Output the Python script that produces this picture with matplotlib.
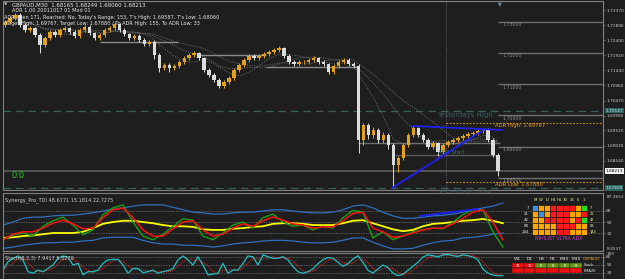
import matplotlib
matplotlib.use("Agg")
import matplotlib.pyplot as plt
import numpy as np
import pandas as pd

# ---- price data (GBPAUD M30) ----
closes = [1.7299, 1.7311, 1.7321, 1.7289, 1.7273, 1.7279, 1.7257, 1.7225, 1.7247, 1.7267,
          1.7257, 1.7273, 1.7279, 1.7267, 1.7254, 1.7273, 1.7283, 1.7263, 1.7247, 1.7257,
          1.7273, 1.7279, 1.7292, 1.7273, 1.7260, 1.7247, 1.7254, 1.7241, 1.7228, 1.7235,
          1.7193, 1.7151, 1.7161, 1.7151, 1.7158, 1.7171, 1.7183, 1.7193, 1.7199, 1.7183,
          1.7145, 1.7129, 1.7113, 1.7094, 1.7107, 1.7119, 1.7145, 1.7161, 1.7177, 1.7190,
          1.7183, 1.7190, 1.7196, 1.7203, 1.7209, 1.7215, 1.7190, 1.7171, 1.7164, 1.7171,
          1.7171, 1.7177, 1.7183, 1.7171, 1.7164, 1.7139, 1.7158, 1.7171, 1.7177, 1.7164,
          1.7158, 1.6921, 1.6969, 1.6937, 1.6953, 1.6921, 1.6937, 1.6905, 1.6841, 1.6863,
          1.6905, 1.6937, 1.6959, 1.6937, 1.6921, 1.6899, 1.6911, 1.6883, 1.6905, 1.6915,
          1.6921, 1.6927, 1.6934, 1.6940, 1.6943, 1.6950, 1.6953, 1.6921, 1.6873, 1.68213]
first_open = 1.7290
highs = [1.7306, 1.7318, 1.7327, 1.7326, 1.7295, 1.7286, 1.7284, 1.7262, 1.7253, 1.7274,
         1.7273, 1.7280, 1.7286, 1.7284, 1.7272, 1.7280, 1.7290, 1.7288, 1.7268, 1.7264,
         1.7280, 1.7286, 1.7300, 1.7297, 1.7278, 1.7265, 1.7261, 1.7259, 1.7246, 1.7242,
         1.7240, 1.7198, 1.7168, 1.7166, 1.7165, 1.7178, 1.7190, 1.7200, 1.7206, 1.7204,
         1.7188, 1.7150, 1.7134, 1.7118, 1.7114, 1.7126, 1.7152, 1.7168, 1.7184, 1.7197,
         1.7195, 1.7197, 1.7203, 1.7210, 1.7216, 1.7222, 1.7220, 1.7195, 1.7176, 1.7178,
         1.7177, 1.7184, 1.7190, 1.7188, 1.7176, 1.7169, 1.7165, 1.7178, 1.7184, 1.7182,
         1.7172, 1.7163, 1.6976, 1.6975, 1.6962, 1.6958, 1.6946, 1.6942, 1.6910, 1.6870,
         1.6912, 1.6944, 1.6966, 1.6964, 1.6942, 1.6926, 1.6918, 1.6916, 1.6912, 1.6922,
         1.6928, 1.6934, 1.6941, 1.6947, 1.6950, 1.6956, 1.6959, 1.6958, 1.6926, 1.6880]
lows = [1.7284, 1.7293, 1.7305, 1.7282, 1.7266, 1.7268, 1.7250, 1.7199, 1.7219, 1.7241,
        1.7250, 1.7251, 1.7267, 1.7261, 1.7247, 1.7248, 1.7267, 1.7257, 1.7240, 1.7241,
        1.7251, 1.7267, 1.7273, 1.7267, 1.7253, 1.7240, 1.7241, 1.7234, 1.7221, 1.7222,
        1.7180, 1.7140, 1.7145, 1.7140, 1.7145, 1.7152, 1.7165, 1.7177, 1.7187, 1.7176,
        1.7138, 1.7122, 1.7106, 1.7087, 1.7088, 1.7101, 1.7113, 1.7139, 1.7155, 1.7171,
        1.7176, 1.7177, 1.7184, 1.7190, 1.7197, 1.7203, 1.7183, 1.7164, 1.7157, 1.7158,
        1.7165, 1.7165, 1.7171, 1.7164, 1.7157, 1.7132, 1.7133, 1.7152, 1.7165, 1.7157,
        1.7152, 1.6879, 1.6905, 1.6925, 1.6928, 1.6910, 1.6912, 1.6893, 1.6767, 1.6820,
        1.6856, 1.6898, 1.6930, 1.6930, 1.6914, 1.6892, 1.6893, 1.6870, 1.6877, 1.6899,
        1.6909, 1.6915, 1.6921, 1.6928, 1.6934, 1.6937, 1.6944, 1.6914, 1.6866, 1.6806]

price_ticks = [1.73370, 1.72890, 1.72400, 1.71920, 1.71440, 1.70960,
               1.70470, 1.69990, 1.69520, 1.69030, 1.68540]
round_levels = [1.73, 1.72, 1.71, 1.70, 1.69, 1.68]
adr_high, adr_low = 1.69767, 1.67880
yday_high, yday_low = 1.70147, 1.67668
last_price = 1.68213

# ---- Synergy TDI ----
tdi_rsi = [21, 29, 32, 27, 43, 52, 58, 45, 29, 37, 62, 73, 78, 50, 27, 21, 30, 43, 55, 53,
           27, 21, 32, 45, 50, 40, 57, 63, 50, 43, 45, 37, 43, 40, 57, 69, 66, 24, 34, 21,
           27, 34, 37, 40, 39, 50, 62, 70, 70, 34, 9]
tdi_signal = [21, 30, 34, 34, 40, 48, 53, 47, 39, 40, 57, 70, 73, 57, 37, 27, 27, 39, 50, 52,
              37, 27, 30, 40, 47, 43, 52, 58, 53, 47, 45, 40, 42, 42, 52, 64, 66, 40, 34, 25,
              27, 32, 37, 40, 40, 47, 56, 66, 70, 50, 21]
tdi_base = [24, 25, 27, 28, 30, 32, 32, 32, 34, 40, 47, 50, 52, 52, 50, 48, 45, 43, 43, 42,
            38, 37, 37, 39, 40, 42, 43, 47, 48, 48, 47, 45, 45, 45, 48, 52, 53, 48, 43, 38,
            35, 37, 43, 47, 48, 50, 52, 53, 55, 52, 48]
tdi_upper = [45, 50, 56, 58, 58, 60, 61, 61, 63, 65, 68, 71, 73, 76, 78, 78, 78, 74, 70, 66,
             65, 63, 63, 65, 66, 66, 68, 70, 70, 68, 66, 65, 65, 66, 70, 76, 78, 73, 66, 60,
             56, 56, 58, 60, 61, 63, 66, 70, 73, 76, 81]
tdi_lower = [7, 9, 12, 14, 16, 16, 17, 17, 19, 20, 24, 25, 25, 25, 20, 16, 14, 14, 12, 12,
             11, 9, 11, 14, 16, 17, 19, 20, 20, 19, 17, 16, 16, 17, 20, 24, 24, 17, 11, 6,
             6, 7, 12, 16, 19, 20, 24, 25, 27, 30, 32]

# ---- Stochastic ----
stoch = [31, 62, 75, 84, 69, 25, 19, 31, 25, 37, 50, 75, 84, 79, 50, 56, 13, 25, 25, 31,
         56, 69, 71, 71, 50, 19, 37, 37, 21, 25, 31, 19, 25, 29, 37, 69, 84, 69, 50, 81,
         50, 13, 16, 19, 56, 19, 31, 31, 56, 84, 81, 50, 88, 81, 75, 75, 81, 69, 44, 25,
         19, 25, 35, 55, 70, 78, 75, 60, 45, 55, 72, 85, 60, 30, 20, 35, 50, 40, 20, 10,
         15, 30, 45, 60, 80, 88, 85, 80, 88, 90, 85, 82, 88, 85, 80, 70, 35, 20, 12, 10, 10]

# ---- ADX heat map ----
adx_cols = ["M", "W", "D", "H4", "H1", "30", "15", "5", "1"]
adx_rows = ["7", "21", "42", "88", "144"]
adx_states = ["BOORRRROG",
              "OBORRROOR",
              "OORRRRORG",
              "OOOORRROO",
              "OOOORROOO"]
stoch_tf = ["W1", "D1", "H4", "H1", "M30", "M15"]
stoch_tf_vals = ["11", "16", "8", "8", "8", "8"]
stoch_tf_state = ["R", "R", "G", "G", "G", "G"]

W, H = 625, 279
BG = "#1e1e1e"
GRID = "#808080"
TXT = "#d0d0d0"
FS_AX = 3.1

fig = plt.figure(figsize=(W / 100, H / 100), dpi=100, facecolor=BG)


def rect(x0, y0, x1, y1):
    return [x0 / W, 1 - y1 / H, (x1 - x0) / W, (y1 - y0) / H]


def ftxt(x, y, s, **kw):
    fig.text(x / W, 1 - y / H, s, **kw)


def px2bar(px):
    return (px - 5) / 4.98


def style(ax):
    ax.set_facecolor(BG)
    for sp in ax.spines.values():
        sp.set_color(GRID)
        sp.set_linewidth(0.8)
    ax.set_xlim(-0.4, 120.1)
    ax.set_xticks([])
    ax.yaxis.tick_right()
    ax.tick_params(axis="y", colors=GRID, labelcolor=TXT, labelsize=FS_AX, length=1.5, width=0.5, pad=0.8)


# ================= main price panel =================
ax = fig.add_axes(rect(3, 1, 603, 190))
style(ax)
ax.set_ylim(1.6761, 1.7366)
ax.set_yticks(price_ticks)
ax.set_yticklabels(["%.5f" % t for t in price_ticks])

opens = [first_open] + closes[:-1]
x = np.arange(len(closes))
for i in x:
    o, c = opens[i], closes[i]
    col = "#e3a21a" if c >= o else "#dcdcdc"
    ax.vlines(i, lows[i], highs[i], color=col, lw=0.7, zorder=3)
    ax.bar(i, max(abs(c - o), 0.00005), bottom=min(o, c), width=0.7, color=col, zorder=3)

cs = pd.Series(closes)
for w in (8, 14, 21):
    ax.plot(x, cs.rolling(w, min_periods=1).mean(), color="#6a6a6a", lw=0.6, ls=(0, (1.5, 1.5)), zorder=2)

# pivot-like range lines
ax.hlines(1.7235, px2bar(100), px2bar(178), color="#8a8a8a", lw=1.0, zorder=2)
ax.hlines(1.7193, px2bar(200), px2bar(266), color="#8a8a8a", lw=1.0, zorder=2)
ax.hlines(1.7155, px2bar(266), px2bar(358), color="#8a8a8a", lw=1.0, zorder=2)
ax.hlines(1.6911, px2bar(358), px2bar(500), color="#6e6e6e", lw=1.0, zorder=2)
ax.hlines(1.6873, px2bar(395), px2bar(497), color="#5a5a5a", lw=1.0, zorder=2)
ax.axhline(last_price, color="#5c5c5c", lw=1.2, zorder=1)

# round number levels
for lv in round_levels:
    ax.hlines(lv, px2bar(498), 120.1, color="#6e6e6e", lw=1.0, zorder=1)
    ax.text(px2bar(503), lv - 0.0002, "%.5f" % lv, color="#8c8c8c", fontsize=3.4, va="top")

# yesterday's high / low
for lv in (yday_high, yday_low):
    ax.axhline(lv, color="#3b5f5f", lw=0.9, ls=(0, (6, 4)), zorder=1)
ax.text(px2bar(437), yday_high - 0.0004, "Yesterdays High", color="#355e5e", fontsize=5, va="top")
ax.text(px2bar(437), yday_low - 0.0004, "Yesterdays Low", color="#355e5e", fontsize=5, va="top")

# ADR lines
ax.hlines([adr_high, adr_low], px2bar(446), 120.1, color="#d08a10", lw=0.8, ls=(0, (1.5, 1.5)), zorder=2)
ax.text(px2bar(495), adr_high - 0.0001, "ADR High: %.5f" % adr_high, color="#e09a20", fontsize=3.8, va="top")
ax.text(px2bar(495), adr_low - 0.0001, "ADR Low: %.5f" % adr_low, color="#e09a20", fontsize=3.8, va="top")
ax.axvline(px2bar(446), color="#7a7a7a", lw=0.6, ls=(0, (1, 1.5)), zorder=1)
ax.text(px2bar(438), 1.6880, "ADR Start", color="#3f7070", fontsize=4, va="center")

# trend lines
ax.plot([px2bar(392), px2bar(485)], [1.6767, 1.6956], color="#1f1fff", lw=1.2, zorder=4)
ax.plot([px2bar(412), px2bar(502)], [1.6966, 1.6953], color="#1f1fff", lw=1.2, zorder=4)

# right side price boxes
yt = ax.get_yaxis_transform()
ax.text(1.004, last_price, "%.5f" % last_price, transform=yt, fontsize=FS_AX, color="#000000",
        va="center", ha="left", bbox=dict(facecolor="#f0f0f0", edgecolor="none", pad=0.5), clip_on=False)
for lv in (yday_high, yday_low):
    ax.text(1.004, lv, "%.5f" % lv, transform=yt, fontsize=FS_AX, color="#bfe0e0",
            va="center", ha="left", bbox=dict(facecolor="#2d6464", edgecolor="none", pad=0.5), clip_on=False)

# header text
ftxt(4, 5, "\u25bc", color="#c0c0c0", fontsize=3.2, va="center")
ftxt(12, 5, "GBPAUD,M30  1.68165 1.68249 1.68060 1.68213", color="#e8e8e8", fontsize=3.9, va="center")
ftxt(12, 11, "ADR 1.00 20011017 01 Mod 01", color="#e8e8e8", fontsize=3.6, va="center")
ftxt(4, 17, "ADR Aven 171, Reached: No, Today's Range: 153, T's High: 1.69587, T's Low: 1.68060",
     color="#e8e8e8", fontsize=3.6, va="center")
ftxt(4, 23, "Target High: 1.69767, Target Low: 1.67880 / To ADR High: 155, To ADR Low: 33",
     color="#e8e8e8", fontsize=3.6, va="center")
ftxt(12, 176, "0.0", color="#22cc22", fontsize=6, va="center")
ftxt(500, 4, "\u25bc", color="#8090b0", fontsize=3.5, va="center", ha="center")

# ================= Synergy TDI panel =================
ax2 = fig.add_axes(rect(3, 193, 603, 251))
style(ax2)
ax2.set_ylim(2.6, 97.4)
ax2.set_yticks([68, 50, 32])
ax2.set_yticklabels(["68", "50", "32"])
for lv in (68, 50, 32):
    ax2.axhline(lv, color="#6a6a6a", lw=0.6, ls=(0, (1.5, 1.5)))
tx = px2bar(3 + 10 * np.arange(len(tdi_rsi)))
ax2.plot(tx, tdi_upper, color="#2f6fbf", lw=0.9)
ax2.plot(tx, tdi_lower, color="#2f6fbf", lw=0.9)
ax2.plot(tx, tdi_base, color="#ffff00", lw=1.3)
ax2.plot(tx, tdi_rsi, color="#15a015", lw=1.0)
ax2.plot(tx, tdi_signal, color="#ff1010", lw=1.1)
ax2.plot([px2bar(420), px2bar(478)], [59.8, 71.3], color="#1f1fff", lw=1.3)
ax2.text(0.004, 0.93, "Synergy_Pro_TDI 48.6771 15.1814 22.7275", transform=ax2.transAxes,
         color=TXT, fontsize=3.6, va="top")
ax2.text(1.006, 0.93, "87.3653", transform=ax2.transAxes, color=TXT, fontsize=FS_AX, va="center", clip_on=False)
ax2.text(1.006, 0.04, "8.3537", transform=ax2.transAxes, color=TXT, fontsize=FS_AX, va="center", clip_on=False)

# ADX heat map
cmap = {"B": "#3a8ee6", "O": "#ffa500", "R": "#ff1a1a", "G": "#22dd22"}
axh = fig.add_axes(rect(532, 205, 587, 235))
axh.set_xlim(0, len(adx_cols))
axh.set_ylim(len(adx_rows), 0)
axh.axis("off")
for r, row in enumerate(adx_states):
    for c, s in enumerate(row):
        axh.add_patch(plt.Rectangle((c, r), 1, 1, facecolor=cmap[s], edgecolor="#101010", lw=0.4))
for c, lab in enumerate(adx_cols):
    ftxt(532 + (c + 0.5) * 55 / 9, 200, lab, color="#f0f0a0", fontsize=2.8, ha="center", va="center")
for r, lab in enumerate(adx_rows):
    ftxt(529, 205 + (r + 0.5) * 6, lab, color="#e8e8e8", fontsize=2.8, ha="right", va="center")
    ftxt(590, 205 + (r + 0.5) * 6, lab, color="#f0f0a0", fontsize=2.6, ha="left", va="center")
ftxt(559, 238.5, "NIHILIST ULTRA ADX", color="#d040d0", fontsize=3.4, ha="center", va="center")

# ================= Stochastic panel =================
ax3 = fig.add_axes(rect(3, 253, 603, 279))
style(ax3)
ax3.spines["bottom"].set_visible(False)
ax3.set_ylim(-2.5, 95)
ax3.set_yticks([80, 50, 20])
ax3.set_yticklabels(["80", "50", "20"])
for lv in (80, 50, 20):
    ax3.axhline(lv, color="#6a6a6a", lw=0.6, ls=(0, (1.5, 1.5)))
sx = px2bar(3 + 5 * np.arange(len(stoch)))
sig = pd.Series(stoch).rolling(3, min_periods=1).mean()
ax3.plot(sx, sig, color="#ff2020", lw=0.7, ls=(0, (1, 1)))
ax3.plot(sx, stoch, color="#20c0c0", lw=0.9)
ax3.text(0.004, 0.88, "Stoch(8,3,3) 7.9417 5.8279", transform=ax3.transAxes,
         color=TXT, fontsize=3.6, va="top")
ax3.text(1.006, 0.97, "100", transform=ax3.transAxes, color=TXT, fontsize=FS_AX, va="center", clip_on=False)

# stoch multi timeframe table
tcol = {"R": "#ee1111", "G": "#6b9a1a"}
axt = fig.add_axes(rect(512, 263, 582, 273))
axt.set_xlim(0, len(stoch_tf))
axt.set_ylim(2, 0)
axt.axis("off")
for c, (lab, v, s) in enumerate(zip(stoch_tf, stoch_tf_vals, stoch_tf_state)):
    axt.add_patch(plt.Rectangle((c, 0), 1, 1, facecolor=tcol[s], edgecolor="#101010", lw=0.3))
    axt.add_patch(plt.Rectangle((c, 1), 1, 1, facecolor="#ee1111", edgecolor="#101010", lw=0.3))
    axt.text(c + 0.5, 0.55, v, color="#ffffff", fontsize=2.6, ha="center", va="center")
    ftxt(512 + (c + 0.5) * 70 / 6, 259, lab, color="#e8e8e8", fontsize=3.2, ha="center", va="center")
ftxt(583, 259, "GBPAUD", color="#e09a20", fontsize=3.0, ha="left", va="center")
ftxt(584, 265.5, "Stoch", color="#e8e8e8", fontsize=2.6, ha="left", va="center")
ftxt(584, 270.5, "EMA20", color="#e8e8e8", fontsize=2.6, ha="left", va="center")

fig.savefig("out.png", dpi=100, facecolor=BG)
